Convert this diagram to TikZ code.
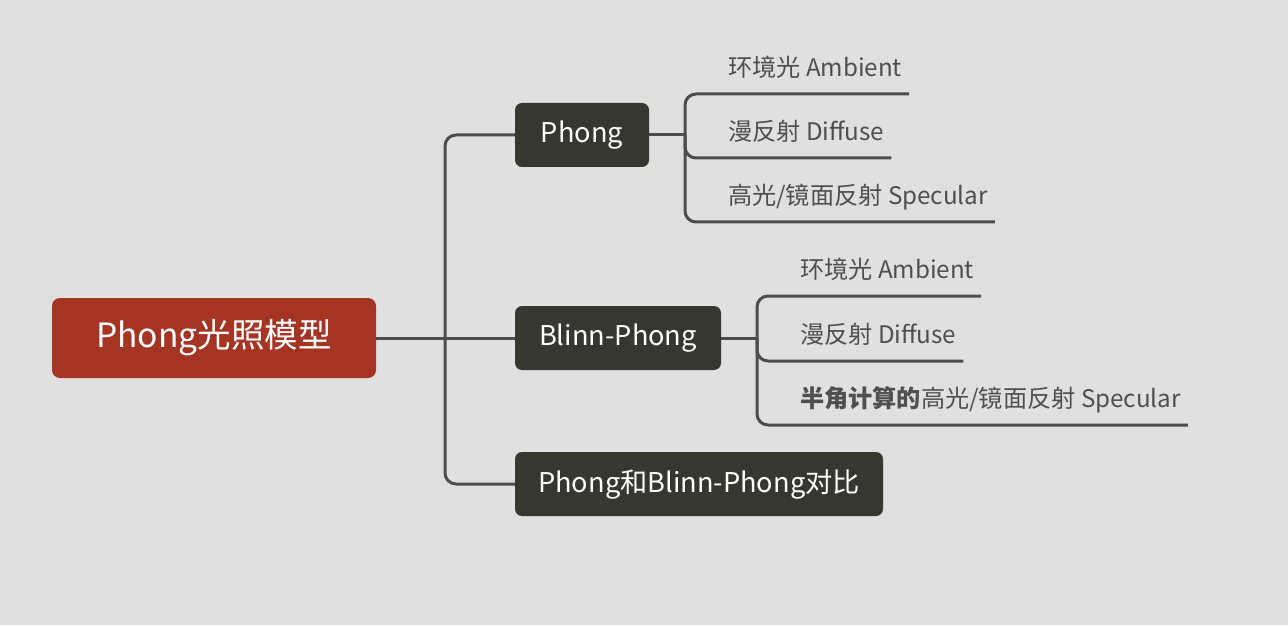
\documentclass[tikz,border=0pt]{standalone}
\usepackage{fontspec}
\setmainfont{Noto Sans CJK SC}
\usepackage{xcolor}
\usetikzlibrary{positioning}

\definecolor{bgcol}{HTML}{E0E0E0}
\definecolor{rootcol}{HTML}{A53423}
\definecolor{topiccol}{HTML}{373731}
\definecolor{linecol}{HTML}{4D4D4D}
\definecolor{leafcol}{HTML}{4F4F4F}

\begin{document}
\begin{tikzpicture}[
    x=1pt, y=1pt,
    root/.style={rectangle, fill=rootcol, text=white, rounded corners=8pt, minimum width=324pt, minimum height=80pt, font=\fontsize{33.5}{40}\selectfont},
    topic/.style={rectangle, fill=topiccol, text=white, rounded corners=7pt, minimum height=64pt, font=\fontsize{27.2}{33}\selectfont},
    leaf/.style={anchor=south west, inner xsep=7pt, inner ysep=17.5pt, outer sep=0pt, text depth=0pt, text=leafcol, font=\fontsize{24.2}{29}\selectfont},
    link/.style={draw=linecol, line width=3pt},
    curvelink/.style={link, rounded corners=11pt}
]

% Background and margins
\fill[bgcol] (0,0) rectangle (1288,625);

% Root and main topics
\node[root] (root) at (214,287) {Phong光照模型};
\node[topic, minimum width=134pt] (phong) at (582,490) {Phong};
\node[topic, minimum width=206pt] (blinn) at (618,287) {Blinn-Phong};
\node[topic, minimum width=368pt] (cmp) at (699,141) {Phong和Blinn-Phong对比};

% Junctions
\coordinate (tj) at (445,287);
\coordinate (pj) at (685,490);
\coordinate (bj) at (757,287);

% Phong leaves
\node[leaf] (pamb) at (721,531) {环境光 Ambient};
\node[leaf] (pdif) at (721,467) {漫反射 Diffuse};
\node[leaf] (pspe) at (721,403) {高光/镜面反射 Specular};

% Blinn-Phong leaves
\node[leaf] (bamb) at (793,329) {环境光 Ambient};
\node[leaf] (bdif) at (793,264) {漫反射 Diffuse};
\node[leaf] (bspe) at (793,200) {\textbf{半角计算的}高光/镜面反射 Specular};

% Trunk
\draw[link] (root.east) -- (tj);
\draw[curvelink] (tj) |- (phong.west);
\draw[link] (tj) -- (blinn.west);
\draw[curvelink] (tj) |- (cmp.west);

% Phong branch
\draw[link] (phong.east) -- (pj);
\draw[curvelink] (pj) |- (pamb.south east);
\draw[curvelink] (pj) |- (pdif.south east);
\draw[curvelink] (pj) |- (pspe.south east);

% Blinn-Phong branch
\draw[link] (blinn.east) -- (bj);
\draw[curvelink] (bj) |- (bamb.south east);
\draw[curvelink] (bj) |- (bdif.south east);
\draw[curvelink] (bj) |- (bspe.south east);

\end{tikzpicture}
\end{document}
